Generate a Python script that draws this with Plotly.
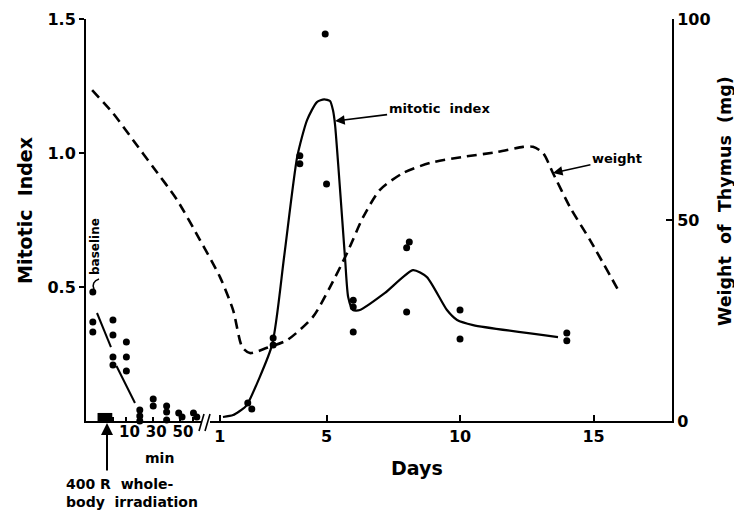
import plotly.graph_objects as go

# ---------------- data ----------------
# early phase: minutes after irradiation (mitotic index)
min_x = [-15, -15, -15, 0, 0, 0, 0, 10, 10, 10, 20, 20, 20, 30, 30,
         40, 40, 40, 49, 51.5, 60, 62.5]
min_mi = [0.481, 0.369, 0.332, 0.377, 0.321, 0.239, 0.209, 0.295, 0.239, 0.187,
          0.041, 0.019, 0.0, 0.082, 0.056, 0.056, 0.034, 0.004, 0.030, 0.015,
          0.030, 0.015]
# two hand-drawn decline segments in the minutes section
seg_min = [-11.9, -1.5, None, 2.6, 16.4]
seg_mi = [0.403, 0.276, None, 0.205, 0.067]
# irradiation period (minutes)
irr_min = [-11.5, -0.5]

# later phase: days (mitotic index points)
day_x = [2.05, 2.2, 3.0, 3.0, 4.0, 4.0, 4.95, 5.0, 6.0, 6.0, 6.0,
         8.0, 8.1, 8.0, 10.0, 10.0, 14.0, 14.0]
day_mi = [0.067, 0.045, 0.31, 0.284, 0.99, 0.96, 1.444, 0.884, 0.451, 0.425, 0.332,
          0.646, 0.668, 0.407, 0.414, 0.306, 0.328, 0.299]

# mitotic index curve (days)
curve_day = [1.12, 1.5, 1.95, 2.06, 2.96, 3.41, 3.90, 4.27, 4.64, 4.91, 5.13, 5.24,
             5.32, 5.69, 5.81, 5.99, 6.25, 7.19, 8.24, 8.76, 9.51, 9.89, 10.49, 13.67]
curve_mi = [0.015, 0.022, 0.052, 0.067, 0.284, 0.612, 0.985, 1.123, 1.19, 1.20, 1.194,
            1.16, 1.104, 0.612, 0.463, 0.414, 0.414, 0.478, 0.563, 0.537, 0.414,
            0.377, 0.358, 0.313]

# thymus weight curve (mg) on the day scale
w_day = [-3.78, -3.0, -2.25, -1.50, -0.60, 0.26, 1.01, 1.50, 1.84, 2.13, 2.77, 3.52,
         4.49, 5.13, 5.77, 6.37, 7.0, 7.87, 8.88, 10.11, 11.39, 12.36, 12.73, 13.11,
         13.48, 14.12, 14.87, 15.99]
w_mg = [82.3, 76.6, 69.9, 63.2, 55.0, 45.0, 35.8, 27.6, 18.4, 16.9, 18.2, 20.1,
        25.9, 33.3, 41.8, 50.7, 57.5, 61.7, 64.2, 65.7, 66.9, 68.2, 68.2, 66.7,
        61.7, 53.2, 45.0, 31.8]

day_ticks = [1, 5, 10, 15]
min_ticks = [0, 10, 20, 30, 40, 50, 60]
min_ticktext = ["", "10", "", "30", "", "50", ""]
mi_ticks = [0.5, 1.0, 1.5]
mi_ticktext = ["0.5", "1.0", "1.5"]
w_ticks = [0, 50, 100]

# ---------------- layout geometry (page pixels) ----------------
PAGE_W, PAGE_H = 742, 514
OFF = 8                       # default body margin of the html page
W, H = PAGE_W - OFF, PAGE_H - OFF
L, R, T, B = 86, 672, 19, 421  # plot area in page pixels
FONT = "DejaVu Sans"


def px(xp):
    return (xp - L) / (R - L)


def py(yp):
    return (B - yp) / (B - T)


black = "black"
fig = go.Figure()

# weight (dashed)
fig.add_trace(go.Scatter(x=w_day, y=w_mg, xaxis="x", yaxis="y2", mode="lines",
                         line=dict(color=black, width=2.6, dash="10px,6px",
                                   shape="spline", smoothing=0.7),
                         hoverinfo="skip", showlegend=False))
# mitotic index curve
fig.add_trace(go.Scatter(x=curve_day, y=curve_mi, xaxis="x", yaxis="y", mode="lines",
                         line=dict(color=black, width=2.2, shape="spline", smoothing=0.6),
                         showlegend=False))
# day points
fig.add_trace(go.Scatter(x=day_x, y=day_mi, xaxis="x", yaxis="y", mode="markers",
                         marker=dict(color=black, size=7), cliponaxis=False,
                         showlegend=False))
# minute points
fig.add_trace(go.Scatter(x=min_x, y=min_mi, xaxis="x2", yaxis="y", mode="markers",
                         marker=dict(color=black, size=7), cliponaxis=False,
                         showlegend=False))
# minute decline segments
fig.add_trace(go.Scatter(x=seg_min, y=seg_mi, xaxis="x2", yaxis="y", mode="lines",
                         line=dict(color=black, width=2), showlegend=False))

shapes = [
    # irradiation bar
    dict(type="rect", xref="x2", yref="y", x0=irr_min[0], x1=irr_min[1], y0=0, y1=0.03,
         fillcolor=black, line=dict(width=0)),
    # axis break
    dict(type="rect", xref="paper", yref="paper", x0=px(202), x1=px(210),
         y0=py(424), y1=py(418), fillcolor="white", line=dict(width=0)),
    dict(type="line", xref="paper", yref="paper", x0=px(199), y0=py(431),
         x1=px(204), y1=py(414), line=dict(color=black, width=1.6)),
    dict(type="line", xref="paper", yref="paper", x0=px(205), y0=py(431),
         x1=px(210), y1=py(414), line=dict(color=black, width=1.6)),
    # small hook linking the "baseline" label to its point
    dict(type="path", xref="paper", yref="paper",
         path=f"M {px(99)},{py(279)} Q {px(91)},{py(282)} {px(94)},{py(289)}",
         line=dict(color=black, width=1.6)),
]

bold = dict(family=FONT, color=black, weight="bold")


def label(text, x, y, size, angle=0, xanchor="center"):
    return dict(text=text, xref="paper", yref="paper", x=px(x), y=py(y),
                xanchor=xanchor, yanchor="middle", textangle=angle,
                showarrow=False, align="left", font=dict(size=size, **bold))


annotations = [
    label("Mitotic  Index", 25, 211, 19, angle=-90),
    label("Weight  of  Thymus  (mg)", 725, 201, 17.5, angle=-90),
    label("Days", 417, 468, 19),
    label("min", 159, 458, 14),
    label("400 R  whole-<br>body  irradiation", 64, 493, 14, xanchor="left"),
    label("baseline", 95, 247, 12, angle=-90),
    # irradiation arrow
    dict(text="", xref="paper", yref="paper", x=px(107), y=py(423), ax=0, ay=49,
         showarrow=True, arrowhead=2, arrowsize=1.2, arrowwidth=2, arrowcolor=black),
    # labelled arrows
    dict(text="mitotic  index", xref="x", yref="y", x=5.32, y=1.119, ax=104, ay=-13,
         showarrow=True, arrowhead=2, arrowsize=1.2, arrowwidth=1.6, arrowcolor=black,
         font=dict(size=13, **bold)),
    dict(text="weight", xref="x", yref="y2", x=13.48, y=61.7, ax=64, ay=-14,
         showarrow=True, arrowhead=2, arrowsize=1.2, arrowwidth=1.6, arrowcolor=black,
         font=dict(size=13, **bold)),
]

tickfont = dict(size=16, **bold)
fig.update_layout(
    width=W, height=H,
    margin=dict(l=L - OFF, r=W - (R - OFF), t=T - OFF, b=H - (B - OFF),
                autoexpand=False),
    paper_bgcolor="white", plot_bgcolor="rgba(0,0,0,0)",
    showlegend=False,
    font=dict(family=FONT, color=black),
    shapes=shapes, annotations=annotations,
    xaxis=dict(domain=[0, 1], range=[-4.01, 17.94], tickmode="array", tickvals=day_ticks,
               ticks="inside", ticklen=6, tickwidth=2, tickcolor=black,
               showline=True, linewidth=2, linecolor=black, showgrid=False,
               zeroline=False, tickfont=tickfont, anchor="y", automargin=False),
    xaxis2=dict(domain=[0, px(207)], range=[-20.1, 70.1], tickmode="array",
                tickvals=min_ticks, ticktext=min_ticktext, ticks="inside", ticklen=4,
                tickwidth=1.5, tickcolor=black, showline=False, showgrid=False,
                zeroline=False, tickfont=dict(size=15, **bold), anchor="y",
                ticklabelshift=3, automargin=False),
    yaxis=dict(domain=[0, 1], range=[0, 1.5], tickmode="array", tickvals=mi_ticks,
               ticktext=mi_ticktext, ticks="outside", ticklen=5, tickwidth=2,
               tickcolor=black, showline=True, linewidth=2, linecolor=black,
               showgrid=False, zeroline=False, tickfont=tickfont, anchor="x",
               automargin=False),
    yaxis2=dict(overlaying="y", side="right", range=[0, 100], tickmode="array",
                tickvals=w_ticks, ticks="inside", ticklen=6, tickwidth=2,
                tickcolor=black, showline=True, linewidth=2, linecolor=black,
                showgrid=False, zeroline=False, tickfont=tickfont, anchor="x",
                automargin=False),
)

fig.write_html("out.html")
